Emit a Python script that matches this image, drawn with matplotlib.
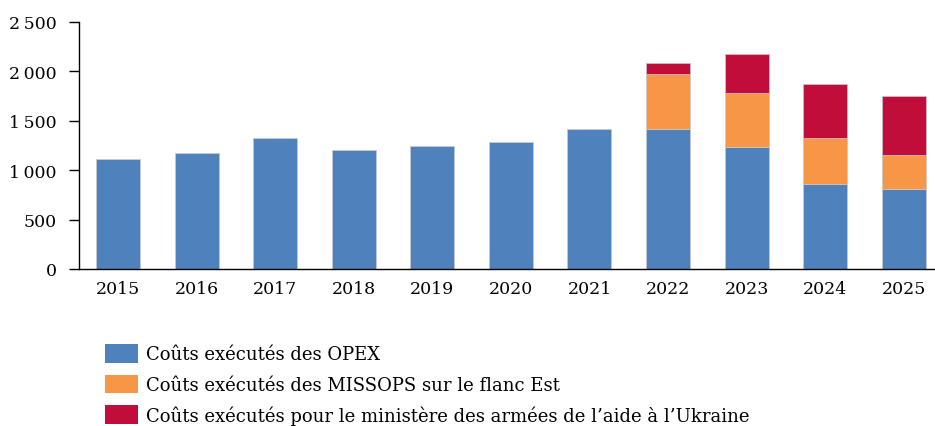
import matplotlib.pyplot as plt
from matplotlib.patches import Patch
import numpy as np

plt.rcParams["font.family"] = ["DejaVu Serif"]

years = ["2015", "2016", "2017", "2018", "2019", "2020", "2021", "2022", "2023", "2024", "2025"]
opex = [1110, 1170, 1330, 1200, 1240, 1285, 1420, 1420, 1230, 860, 810]
missops = [0, 0, 0, 0, 0, 0, 0, 550, 550, 465, 345]
ukraine = [0, 0, 0, 0, 0, 0, 0, 120, 400, 550, 595]
labels = [
    "Coûts exécutés des OPEX",
    "Coûts exécutés des MISSOPS sur le flanc Est",
    "Coûts exécutés pour le ministère des armées de l\u2019aide à l\u2019Ukraine",
]
colors = ["#4F81BD", "#F79646", "#C00D3A"]

fig = plt.figure(figsize=(9.35, 4.27), dpi=100)
ax = fig.add_axes([79 / 935, 1 - 270 / 427, 1 - 79 / 935, (270 - 23) / 427])

x = np.arange(len(years))
bottom = np.zeros(len(years))
for vals, col in zip([opex, missops, ukraine], colors):
    vals = np.array(vals)
    ax.bar(x, vals, width=0.56, bottom=bottom, color=col, edgecolor="#c8c8c8", linewidth=0.5)
    bottom += vals

ax.set_xlim(-0.5, 10.4)
ax.set_ylim(0, 2500)
ax.set_yticks(range(0, 2501, 500))
ax.set_yticklabels([f"{v:,}".replace(",", "\u202f") if v >= 1000 else str(v) for v in range(0, 2501, 500)])
ax.set_xticks(x)
ax.set_xticklabels(years)
ax.tick_params(axis="y", direction="out", length=7, width=1, labelsize=12.5, pad=9)
ax.tick_params(axis="x", length=0, labelsize=12.5, pad=8)
for s in ["top", "right"]:
    ax.spines[s].set_visible(False)
ax.spines["left"].set_linewidth(1)
ax.spines["bottom"].set_linewidth(1)

handles = [Patch(facecolor=c, edgecolor="none") for c in colors]
fig.legend(handles, labels, loc="upper left", bbox_to_anchor=(105 / 935, 1 - 345 / 427),
           frameon=False, fontsize=13, handlelength=1.85, handleheight=1.2,
           handletextpad=0.4, labelspacing=0.62, borderaxespad=0, borderpad=0)

fig.savefig("out.png", dpi=100)
